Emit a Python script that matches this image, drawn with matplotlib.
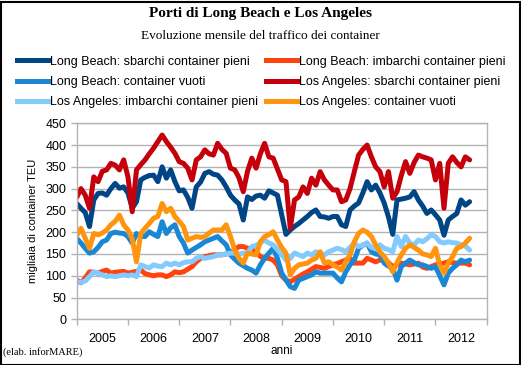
#!/usr/bin/env python3
# Porti di Long Beach e Los Angeles - traffico mensile container (migliaia di TEU)
# Jan 2005 .. Sep 2012, one value per month

import numpy as np
import matplotlib
matplotlib.use("Agg")
import matplotlib.pyplot as plt
from matplotlib.lines import Line2D
from matplotlib.patches import Rectangle

# --- DATA ---
YEARS = ["2005", "2006", "2007", "2008", "2009", "2010", "2011", "2012"]

LB_SBARCHI = [266, 255, 245, 213, 274, 289, 290, 285, 300, 312, 301, 304,
              290, 255, 270, 320, 326, 330, 331, 316, 350, 324, 343, 316,
              295, 297, 280, 255, 304, 315, 335, 339, 333, 331, 320, 304,
              285, 274, 265, 228, 281, 275, 283, 285, 278, 295, 290, 285,
              240, 195, 205, 213, 220, 228, 236, 245, 251, 236, 235, 232,
              236, 236, 217, 213, 251, 260, 267, 290, 316, 297, 308, 290,
              267, 235, 195, 274, 276, 278, 281, 293, 274, 260, 243, 251,
              240, 228, 193, 228, 236, 243, 274, 262, 270]

LB_IMBARCHI = [90, 84, 95, 109, 108, 106, 110, 113, 106, 108, 109, 110,
               106, 108, 110, 113, 105, 102, 100, 102, 102, 98, 102, 109,
               107, 109, 115, 121, 132, 140, 144, 146, 148, 148, 148, 150,
               152, 160, 167, 167, 163, 160, 155, 144, 140, 140, 136, 125,
               100, 90, 86, 92, 98, 104, 109, 115, 121, 119, 117, 121,
               125, 128, 132, 136, 140, 129, 129, 129, 140, 136, 132, 136,
               140, 130, 121, 125, 129, 127, 125, 127, 129, 120, 117, 121,
               125, 127, 129, 132, 130, 129, 129, 129, 125]

LB_VUOTI = [186, 175, 163, 152, 155, 165, 178, 182, 197, 200, 198, 197,
            190, 175, 197, 190, 190, 201, 195, 190, 224, 197, 210, 217,
            190, 175, 152, 159, 165, 171, 178, 182, 186, 190, 180, 171,
            148, 138, 129, 123, 117, 113, 106, 125, 140, 152, 163, 140,
            106, 90, 75, 71, 90, 94, 98, 102, 109, 106, 106, 106,
            106, 95, 86, 109, 125, 136, 163, 170, 175, 155, 150, 148,
            129, 122, 117, 90, 121, 129, 136, 130, 125, 125, 121, 117,
            121, 100, 79, 106, 117, 125, 136, 132, 136]

LA_SBARCHI = [280, 300, 285, 255, 327, 316, 340, 343, 358, 354, 343, 366,
              327, 247, 343, 355, 366, 380, 393, 408, 423, 408, 395, 381,
              362, 358, 347, 320, 366, 373, 389, 380, 377, 404, 390, 381,
              347, 343, 325, 293, 340, 370, 347, 380, 404, 373, 370, 345,
              320, 316, 209, 274, 281, 304, 289, 324, 308, 339, 320, 308,
              297, 297, 270, 274, 300, 339, 377, 390, 400, 373, 350, 339,
              304, 339, 278, 293, 330, 362, 335, 360, 377, 373, 370, 366,
              320, 358, 255, 358, 373, 360, 350, 373, 366]

LA_IMBARCHI = [86, 85, 88, 98, 109, 106, 102, 98, 100, 98, 100, 102,
               100, 102, 98, 125, 121, 118, 125, 122, 121, 129, 125, 129,
               125, 130, 132, 132, 140, 144, 140, 142, 144, 148, 148, 150,
               152, 152, 150, 152, 152, 167, 170, 175, 182, 175, 171, 160,
               148, 136, 140, 152, 148, 144, 152, 148, 155, 150, 148, 155,
               159, 163, 160, 155, 165, 175, 167, 170, 175, 165, 163, 171,
               163, 160, 155, 190, 167, 190, 175, 171, 182, 178, 185, 194,
               190, 178, 175, 178, 176, 175, 171, 168, 159]

LA_VUOTI = [192, 209, 186, 163, 197, 194, 198, 205, 217, 225, 239, 217,
            205, 185, 132, 197, 209, 220, 232, 236, 266, 247, 255, 236,
            225, 213, 182, 186, 190, 188, 190, 198, 205, 205, 205, 217,
            190, 159, 140, 129, 152, 150, 148, 178, 190, 194, 201, 182,
            165, 152, 102, 117, 125, 127, 129, 136, 140, 155, 129, 132,
            125, 120, 113, 132, 148, 178, 197, 205, 200, 190, 171, 155,
            144, 129, 109, 130, 148, 163, 171, 165, 159, 150, 148, 144,
            163, 125, 106, 129, 144, 163, 167, 175, 186]

SERIES = [
    ("Long Beach: sbarchi container pieni", LB_SBARCHI, "#004586"),
    ("Long Beach: imbarchi container pieni", LB_IMBARCHI, "#ff420e"),
    ("Long Beach: container vuoti", LB_VUOTI, "#1a87d4"),
    ("Los Angeles: sbarchi container pieni", LA_SBARCHI, "#c5000b"),
    ("Los Angeles: imbarchi container pieni", LA_IMBARCHI, "#83caff"),
    ("Los Angeles: container vuoti", LA_VUOTI, "#ff950e"),
]

W, H = 521, 365
DPI = 100
SANS = "Liberation Sans"
SERIF = "Liberation Serif"
GRID = "#b3b3b3"

fig = plt.figure(figsize=(W / DPI, H / DPI), dpi=DPI)

# plot area in pixels: x 76.7..486.7, y 123.3..319.3 (from top)
left, right, top, bottom = 76.7, 486.7, 123.3, 319.3
ax = fig.add_axes([left / W, 1 - bottom / H, (right - left) / W, (bottom - top) / H])

for label, vals, col in SERIES:
    ax.plot(np.arange(len(vals)), vals, color=col, lw=3.6, label=label,
            solid_joinstyle="round", solid_capstyle="round")

ax.set_xlim(0, 96)
ax.set_ylim(0, 450)
ax.set_yticks(range(0, 451, 50))
ax.yaxis.grid(True, color=GRID, lw=1)
ax.set_axisbelow(True)
for sp in ax.spines.values():
    sp.set_color(GRID)
    sp.set_linewidth(1)

# year boundaries as major ticks, labels centred in between
ax.set_xticks(range(0, 97, 12))
ax.set_xticklabels([])
ax.set_xticks(np.arange(6, 96, 12), minor=True)
ax.set_xticklabels(YEARS, minor=True)
ax.tick_params(axis="x", which="major", length=4.5, color=GRID, width=1)
ax.tick_params(axis="x", which="minor", length=0, pad=10, labelsize=9)
ax.tick_params(axis="y", length=4, color=GRID, width=1, pad=3.5, labelsize=9)
for t in ax.get_xticklabels(minor=True) + ax.get_yticklabels():
    t.set_family(SANS)

ax.set_ylabel("migliaia di container TEU", family=SANS, fontsize=8, labelpad=5)
ax.set_xlabel("anni", family=SANS, fontsize=8.5, labelpad=0)

# titles
fig.text(0.5, 1 - 14 / H, "Porti di Long Beach e Los Angeles", ha="center", va="center",
         family=SERIF, fontweight="bold", fontsize=11)
fig.text(0.5, 1 - 36 / H, "Evoluzione mensile del traffico dei container", ha="center",
         va="center", family=SERIF, fontsize=9.5)

# legend, two columns above the chart; matplotlib fills column by column,
# the original reads row by row, so reorder
handles, labels = ax.get_legend_handles_labels()
order = [0, 2, 4, 1, 3, 5]
handles = [Line2D([], [], color=handles[i].get_color(), lw=3.6) for i in order]
labels = [labels[i] for i in order]
leg = fig.legend(handles, labels, ncol=2, loc="upper left",
                 bbox_to_anchor=(17 / W, 1 - 55.5 / H), frameon=False,
                 prop={"family": SANS, "size": 9}, handlelength=2.5,
                 handletextpad=0.15, columnspacing=0.6, labelspacing=0.68,
                 borderaxespad=0, borderpad=0)

fig.text(3 / W, 1 - 352 / H, "(elab. inforMARE)", family=SERIF, fontsize=7.5,
         ha="left", va="center")

# black frame round the whole picture
fig.add_artist(Rectangle((0.5 / W, 0.5 / H), 1 - 2 / W, 1 - 2 / H, transform=fig.transFigure,
                         fill=False, edgecolor="black", lw=1.5))

fig.savefig("out.png", dpi=DPI)
